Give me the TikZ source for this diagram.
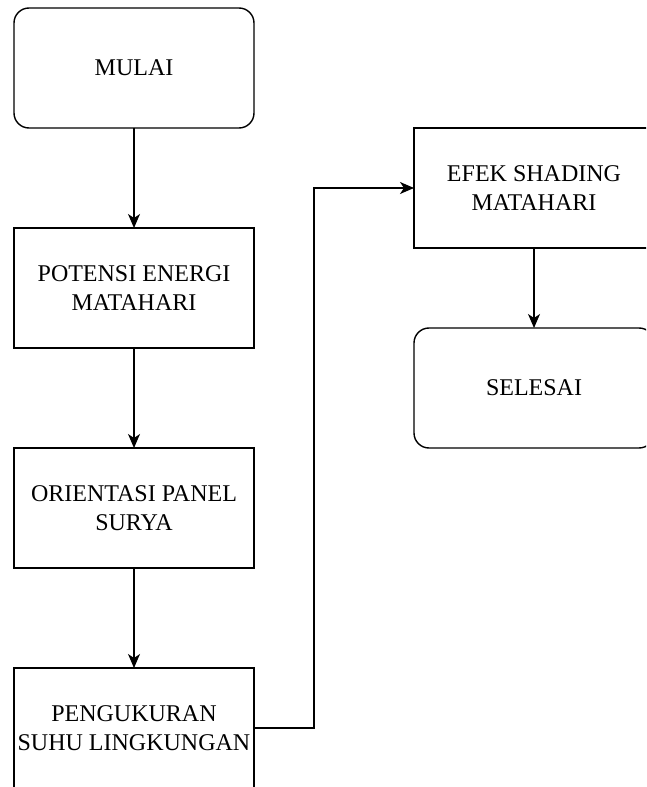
\documentclass[tikz,border=0pt]{standalone}
\usepackage{fontspec}
\setmainfont{Liberation Serif}
\usepackage{tikz}
\usetikzlibrary{arrows.meta,positioning,calc}
\tikzset{
  procbox/.style={draw,line width=0.8pt,outer sep=0pt,inner xsep=1pt,minimum width=4.8cm,minimum height=2.4cm,align=center,font=\fontsize{13.66}{16.5}\selectfont},
  termbox/.style={procbox,rounded corners=0.3cm},
  flowpath/.style={-{Stealth[length=0.28cm,width=0.24cm,inset=0.08cm]},line width=0.8pt}
}
\begin{document}
\begin{tikzpicture}[node distance=2cm]
\useasboundingbox (0,0) rectangle (12.92,-15.74);
\clip (0,0) rectangle (12.92,-15.74);
\node[termbox] (mulai) at (2.68,-1.36) {MULAI};
\node[procbox,below=of mulai] (potensi) {POTENSI ENERGI\\MATAHARI};
\node[procbox,below=of potensi] (orientasi) {ORIENTASI PANEL\\SURYA};
\node[procbox,below=of orientasi] (ukur) {PENGUKURAN\\SUHU LINGKUNGAN};
\node[procbox,below right=0cm and 3.2cm of mulai] (efek) {EFEK SHADING\\MATAHARI};
\node[termbox,below=1.6cm of efek] (selesai) {SELESAI};
\draw[flowpath](mulai)--(potensi);
\draw[flowpath](potensi)--(orientasi);
\draw[flowpath](orientasi)--(ukur);
\draw[flowpath](ukur.east)--++(1.2,0)|-(efek.west);
\draw[flowpath](efek)--(selesai);
\end{tikzpicture}
\end{document}
